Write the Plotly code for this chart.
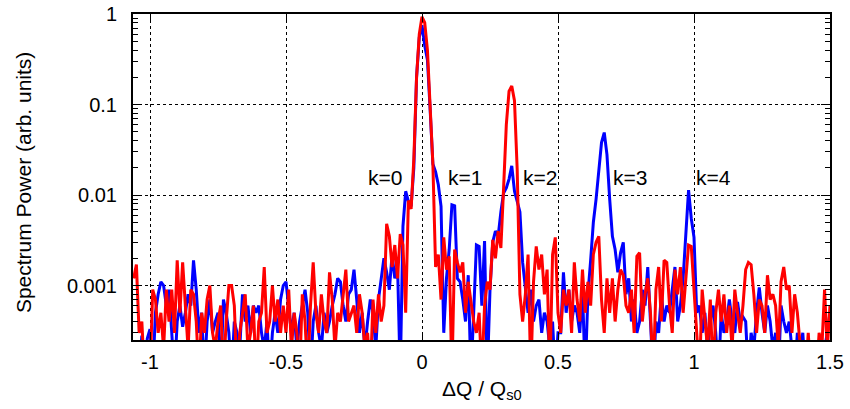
import math
import plotly.graph_objects as go

# x grid: -1.06 .. 1.50 step 0.01 (257 points)
x_start = -1.06
x_step = 0.01

blue_power = [
    0.0001, 0.0001, 0.0001, 0.00028, 0.0001, 0.00026, 0.00033, 0.0001, 0.0005, 0.0008,
    0.0011, 0.001, 0.0006, 0.0009, 0.0003, 0.0001, 0.0004, 0.0006, 0.00035, 0.0005,
    0.0008, 0.0006, 0.0019, 0.0009, 0.0003, 0.0005, 0.0001, 0.0004, 0.0007, 0.0003,
    0.0004, 0.0005, 0.0001, 0.0007, 0.0005, 0.0003, 0.0001, 0.0004, 0.0003, 0.0002,
    0.0008, 0.0004, 0.0006, 0.0003, 0.0006, 0.0005, 0.0006, 0.0003, 0.0002, 0.0004,
    0.0001, 0.0003, 0.0005, 0.0003, 0.0007, 0.001, 0.0011, 0.0006, 0.0003, 0.0005,
    0.0002, 0.0004, 0.0006, 0.0009, 0.0005, 0.0001, 0.0004, 0.0006, 0.0003, 0.0002,
    0.0005, 0.0003, 0.0004, 0.0006, 0.0008, 0.0012, 0.0011, 0.0006, 0.0004, 0.0008,
    0.0009, 0.0015, 0.0007, 0.0003, 0.0005, 0.0002, 0.0004, 0.0007, 0.0005, 0.0002,
    0.0007, 0.0012, 0.002, 0.0014, 0.0009, 0.0022, 0.0012, 0.0017, 0.0001, 0.0045,
    0.011, 0.0085, 0.0075, 0.02, 0.2, 0.55, 0.75, 0.45, 0.31, 0.087,
    0.022, 0.018, 0.013, 0.0075, 0.0003, 0.0012, 0.0025, 0.0078, 0.0076, 0.0012,
    0.0011, 0.0007, 0.0004, 0.0013, 0.0001, 0.0005, 0.0028, 0.0027, 0.0006, 0.0031,
    0.0001, 0.0009, 0.003, 0.004, 0.0035, 0.0065, 0.0105, 0.012, 0.015, 0.021,
    0.011, 0.0085, 0.0065, 0.0018, 0.0009, 0.0005, 0.0009, 0.0004, 0.0006, 0.0007,
    0.0003, 0.0005, 0.0004, 0.0002, 0.0004, 0.0001, 0.0003, 0.0003, 0.0014, 0.0005,
    0.0009, 0.0004, 0.0006, 0.0005, 0.0003, 0.0009, 0.0001, 0.0008, 0.0019, 0.005,
    0.009, 0.02, 0.038, 0.049, 0.028, 0.009, 0.0035, 0.0025, 0.0014, 0.0023,
    0.003, 0.0008, 0.0012, 0.0004, 0.0007, 0.0003, 0.0004, 0.0009, 0.0006, 0.0016,
    0.0005, 0.0001, 0.0004, 0.0003, 0.0008, 0.0004, 0.0006, 0.0005, 0.0009, 0.0016,
    0.0004, 0.0006, 0.0012, 0.004, 0.0113, 0.0055, 0.0034, 0.0005, 0.0006, 0.0003,
    0.0005, 0.0002, 0.0004, 0.0006, 0.0003, 0.0001, 0.0005, 0.0003, 0.0004, 0.0007,
    0.0004, 0.0003, 0.00066, 0.0004, 0.00045, 0.0004, 0.0001, 0.0003, 0.0002, 0.0005,
    0.00095, 0.0005, 0.0003, 0.0006, 0.0004, 0.0002, 0.0003, 0.0001, 0.0006, 0.0004,
    0.0003, 0.0004, 0.0002, 0.0001, 0.0003, 0.0002, 0.0003, 0.0001, 0.0001, 0.0001,
    0.0001, 0.0002, 0.0001, 0.0001, 0.0002, 0.0003, 0.0005,
]

red_power = [
    0.0012, 0.0017, 0.0003, 0.0004, 0.0001, 0.0001, 0.0001, 0.0009, 0.0007, 0.0003,
    0.0005, 0.0002, 0.0009, 0.0004, 0.0009, 0.0003, 0.0019, 0.0005, 0.0018, 0.0006,
    0.0002, 0.0009, 0.0008, 0.0004, 0.0001, 0.0005, 0.0003, 0.0007, 0.001, 0.0003,
    0.0002, 0.0004, 0.0006, 0.0001, 0.0004, 0.001, 0.001, 0.0006, 0.0001, 0.0003,
    0.0005, 0.0008, 0.0002, 0.0003, 0.0006, 0.0001, 0.0004, 0.0005, 0.0016, 0.0003,
    0.0004, 0.001, 0.0004, 0.0007, 0.0003, 0.0006, 0.0003, 0.0009, 0.0002, 0.0005,
    0.0003, 0.0001, 0.0008, 0.0004, 0.0001, 0.0006, 0.0018, 0.0005, 0.0003, 0.0008,
    0.0004, 0.0003, 0.0014, 0.0007, 0.0002, 0.0005, 0.0004, 0.0008, 0.0015, 0.0004,
    0.0005, 0.0006, 0.0003, 0.0008, 0.0005, 0.0002, 0.0003, 0.0001, 0.0007, 0.0003,
    0.0008, 0.0004, 0.0006, 0.0048, 0.0035, 0.0016, 0.0028, 0.0012, 0.0037, 0.0028,
    0.0005, 0.0087, 0.007, 0.025, 0.2, 0.6, 0.93, 0.8, 0.4, 0.1,
    0.022, 0.0016, 0.0022, 0.0007, 0.0034, 0.0015, 0.0021, 0.0001, 0.0025, 0.0018,
    0.0014, 0.0018, 0.0005, 0.0011, 0.0007, 0.0004, 0.0003, 0.0005, 0.0001, 0.0006,
    0.0011, 0.0009, 0.0032, 0.002, 0.004, 0.0026, 0.012, 0.06, 0.14, 0.16,
    0.11, 0.019, 0.0008, 0.0004, 0.0008, 0.0022, 0.0001, 0.0011, 0.0027, 0.0015,
    0.0022, 0.0008, 0.0015, 0.0001, 0.0022, 0.0034, 0.0005, 0.0003, 0.0009, 0.0006,
    0.0009, 0.0003, 0.0018, 0.0007, 0.0004, 0.0015, 0.0005, 0.0011, 0.0006, 0.0022,
    0.003, 0.0035, 0.0007, 0.0003, 0.0012, 0.0005, 0.0012, 0.0004, 0.0009, 0.0015,
    0.0013, 0.0006, 0.0005, 0.0009, 0.0003, 0.0021, 0.0023, 0.0004, 0.0008, 0.0012,
    0.0005, 0.0001, 0.0009, 0.0016, 0.0004, 0.0019, 0.0018, 0.0006, 0.0003, 0.0015,
    0.0008, 0.0016, 0.0005, 0.0012, 0.0028, 0.0027, 0.0008, 0.0003, 0.0001, 0.0009,
    0.0004, 0.0002, 0.0007, 0.0001, 0.0005, 0.0009, 0.0004, 0.0008, 0.0003, 0.0006,
    0.0002, 0.0009, 0.0005, 0.0003, 0.0006, 0.0015, 0.0018, 0.0017, 0.0008, 0.0003,
    0.0007, 0.0006, 0.0003, 0.0013, 0.0007, 0.0008, 0.0006, 0.0002, 0.0011, 0.0016,
    0.0009, 0.001, 0.0003, 0.0008, 0.0005, 0.0002, 0.0001, 0.0001, 0.0003, 0.0001,
    0.0001, 0.0001, 0.0003, 0.0002, 0.0009, 0.0002, 0.0006,
]

x_vals = [round(x_start + i * x_step, 4) for i in range(len(blue_power))]

x_tick_vals = [-1, -0.5, 0, 0.5, 1, 1.5]
x_tick_text = ["-1", "-0.5", "0", "0.5", "1", "1.5"]
y_tick_vals = [0.001, 0.01, 0.1, 1]
y_tick_text = ["0.001", "0.01", "0.1", "1"]

label_texts = ["k=0", "k=1", "k=2", "k=3", "k=4"]
label_x = [-0.136, 0.158, 0.434, 0.765, 1.07]
label_y = [0.0157, 0.0157, 0.0157, 0.0157, 0.0157]

font_family = "Liberation Sans, Arial, sans-serif"

fig = go.Figure()
fig.add_trace(go.Scatter(x=x_vals, y=blue_power, mode="lines",
                         line=dict(color="#0000ff", width=3), showlegend=False))
fig.add_trace(go.Scatter(x=x_vals, y=red_power, mode="lines",
                         line=dict(color="#ff0000", width=3), showlegend=False))

for t, lx, ly in zip(label_texts, label_x, label_y):
    fig.add_annotation(x=lx, y=math.log10(ly), yref="y", xref="x", text=t, showarrow=False,
                       font=dict(family=font_family, size=21, color="black"))

# axis titles
fig.add_annotation(x=0.5, y=-0.152, xref="paper", yref="paper", yanchor="middle",
                   text="ΔQ / Q<sub>s0</sub>", showarrow=False,
                   font=dict(family=font_family, size=21, color="black"))
fig.add_annotation(x=-0.158, y=0.484, xref="paper", yref="paper", xanchor="center",
                   yanchor="middle", textangle=-90,
                   text="Spectrum Power (arb. units)", showarrow=False,
                   font=dict(family=font_family, size=21, color="black"))

fig.update_layout(
    width=850, height=409,
    margin=dict(l=133, r=20, t=14, b=69),
    paper_bgcolor="white", plot_bgcolor="white",
    font=dict(family=font_family, size=20, color="black"),
    xaxis=dict(
        range=[-1.0625, 1.5], tickvals=x_tick_vals, ticktext=x_tick_text,
        automargin=False, ticklabeloverflow="allow",
        showgrid=True, gridcolor="black", gridwidth=1, griddash="3px,3px",
        zeroline=False, showline=True, linecolor="black", linewidth=2,
        mirror="allticks", ticks="inside", ticklen=8, tickcolor="black",
        tickfont=dict(size=20), ticklabelstandoff=3,
    ),
    yaxis=dict(
        type="log", range=[-3.602, 0], tickvals=y_tick_vals, ticktext=y_tick_text,
        automargin=False, ticklabeloverflow="allow",
        showgrid=True, gridcolor="black", gridwidth=1, griddash="3px,3px",
        zeroline=False, showline=True, linecolor="black", linewidth=2,
        mirror="allticks", ticks="inside", ticklen=9, tickcolor="black",
        tickfont=dict(size=20), ticklabelstandoff=10,
        minor=dict(ticks="inside", ticklen=5, tickcolor="black", dtick="D1", showgrid=False),
    ),
)

# remove the default 8px page margin so the figure sits at the window's corner
fig.write_html("out.html", config={"displayModeBar": False},
               post_script="document.body.style.margin='0';")
